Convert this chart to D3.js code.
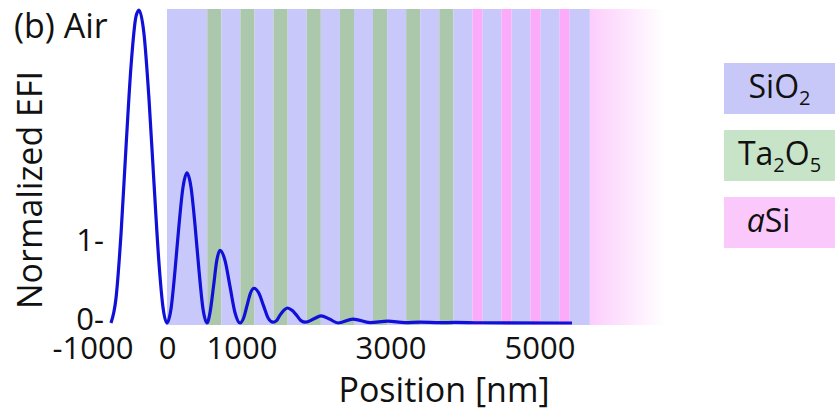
<!DOCTYPE html>
<html>
<head>
<meta charset="utf-8">
<script src="https://cdn.jsdelivr.net/npm/d3@7"></script>
<style>
  body { margin: 0; background: #fff; }
  text { font-family: "Open Sans", sans-serif; fill: #111; }
</style>
</head>
<body>
<script>
// layer stack, thicknesses in nm, starting at position 0
const layerMaterial = ["SiO2",
  "Ta2O5","SiO2","Ta2O5","SiO2","Ta2O5","SiO2","Ta2O5","SiO2",
  "Ta2O5","SiO2","Ta2O5","SiO2","Ta2O5","SiO2","Ta2O5","SiO2",
  "aSi","SiO2","aSi","SiO2","aSi","SiO2","aSi","SiO2"];
const layerThickness = [540,
  190,255,190,255,190,255,190,255,
  190,255,190,255,190,255,190,255,
  135,255,135,255,135,255,135,270];
const substrateThickness = 1000;

// normalized EFI
const positionNm = [-752,-685,-617,-550,-483,-416,-376,-309,-242,-174,-107,-54,0,
  54,107,161,215,268,322,376,430,483,537,
  577,624,668,711,779,846,913,980,
  1027,1074,1121,1168,1232,1295,1359,1423,
  1470,1517,1567,1617,1678,1738,1799,1859,
  1966,2067,2181,2295,2497,2725,2966,3195,3396,3664,3866,4201,5436];
const efi = [0,0.31,1.13,2.23,3.25,3.88,3.96,3.66,2.84,1.76,0.75,0.2,0,
  0.18,0.66,1.24,1.72,1.9,1.72,1.24,0.66,0.18,0,
  0.13,0.46,0.79,0.92,0.79,0.46,0.13,0,
  0.06,0.22,0.38,0.44,0.38,0.22,0.06,0.01,
  0.03,0.1,0.16,0.19,0.16,0.1,0.03,0.01,
  0.05,0.09,0.05,0,0.05,0.005,0.025,0.005,0.012,0.004,0.008,0.003,0];

const xTicks = [-1000, 0, 1000, 3000, 5000];
const yTicks = [0, 1];

const colors = {SiO2: "#c8c8fa", Ta2O5: "#acc8ac", aSi: "#fcaafa"};
const legendColors = {SiO2: "#c8c8f8", Ta2O5: "#c8e4c8", aSi: "#fac8fa"};

let svg = d3.select("body").append("svg")
  .attr("width", 836)
  .attr("height", 412);

let x = d3.scaleLinear().domain([0, 5000]).range([167, 539.5]);
let y = d3.scaleLinear().domain([0, 4]).range([323, 7]);

let starts = [0, ...d3.cumsum(layerThickness)];
let layers = layerMaterial.map((m, i) => ({m: m, x0: starts[i], x1: starts[i + 1]}));
let stackEnd = starts[starts.length - 1];

let grad = svg.append("defs").append("linearGradient").attr("id", "sub");
grad.append("stop").attr("offset", "0%").attr("stop-color", "#fccdfc");
grad.append("stop").attr("offset", "45%").attr("stop-color", "#fde4fd");
grad.append("stop").attr("offset", "100%").attr("stop-color", "#ffffff");

let bandTop = y(4) + 2, bandBottom = y(0) + 2;

svg.append("rect")
  .attr("x", x(stackEnd))
  .attr("y", bandTop)
  .attr("width", x(stackEnd + substrateThickness) - x(stackEnd))
  .attr("height", bandBottom - bandTop)
  .attr("fill", "url(#sub)");

svg.selectAll("rect.layer")
  .data(layers)
  .enter()
  .append("rect")
  .attr("class", "layer")
  .attr("x", d => x(d.x0))
  .attr("y", bandTop)
  .attr("width", d => x(d.x1) - x(d.x0))
  .attr("height", bandBottom - bandTop)
  .attr("fill", d => colors[d.m]);

let line = d3.line()
  .x((d, i) => x(positionNm[i]))
  .y(d => y(d))
  .curve(d3.curveMonotoneX);

svg.append("path")
  .attr("d", line(efi))
  .attr("fill", "none")
  .attr("stroke", "#1010d8")
  .attr("stroke-width", 3.2)
  .attr("stroke-linejoin", "round");

// axes, tick marks are the "-" in the labels
let xAxis = svg.append("g")
  .attr("transform", `translate(0,${y(0)})`)
  .call(d3.axisBottom(x).tickValues(xTicks).tickSize(0).tickPadding(14).tickFormat(d => String(d)));
let yAxis = svg.append("g")
  .attr("transform", "translate(104,-3)")
  .call(d3.axisLeft(y).tickValues(yTicks).tickSize(0).tickPadding(0).tickFormat(d => d + "-"));
[xAxis, yAxis].forEach(g => {
  g.select(".domain").remove();
  g.selectAll("text").style("font-family", "Open Sans").style("font-size", "31px").attr("fill", "#111");
});

svg.append("text")
  .attr("x", 444).attr("y", 402)
  .attr("text-anchor", "middle")
  .style("font-size", "34px")
  .text("Position [nm]");

svg.append("text")
  .attr("transform", "translate(42,190) rotate(-90)")
  .attr("text-anchor", "middle")
  .style("font-size", "34px")
  .text("Normalized EFI");

svg.append("text")
  .attr("x", 14).attr("y", 38)
  .style("font-size", "34px")
  .text("(b) Air");

// legend
let legend = [
  {m: "SiO2", dx: 0, parts: [["Si", ""], ["O", ""], ["2", "sub"]]},
  {m: "Ta2O5", dx: 0, parts: [["Ta", ""], ["2", "sub"], ["O", ""], ["5", "sub"]]},
  {m: "aSi", dx: -11, parts: [["a", "it"], ["Si", ""]]}
];

let lg = svg.selectAll("g.leg")
  .data(legend)
  .enter()
  .append("g")
  .attr("class", "leg")
  .attr("transform", (d, i) => `translate(724,${63 + i * 67})`);

lg.append("rect")
  .attr("width", 111)
  .attr("height", 51)
  .attr("fill", d => legendColors[d.m]);

let lt = lg.append("text")
  .attr("x", d => 55.5 + d.dx)
  .attr("y", 35)
  .attr("text-anchor", "middle")
  .style("font-size", "32px");

lt.each(function(d) {
  let t = d3.select(this);
  let wasSub = false;
  d.parts.forEach(p => {
    let s = t.append("tspan").text(p[0]);
    if (p[1] == "sub") { s.style("font-size", "20px").attr("dy", 7); wasSub = true; }
    else {
      if (p[1] == "it") s.style("font-style", "italic");
      if (wasSub) s.attr("dy", -7);
      wasSub = false;
    }
  });
});
</script>
</body>
</html>
